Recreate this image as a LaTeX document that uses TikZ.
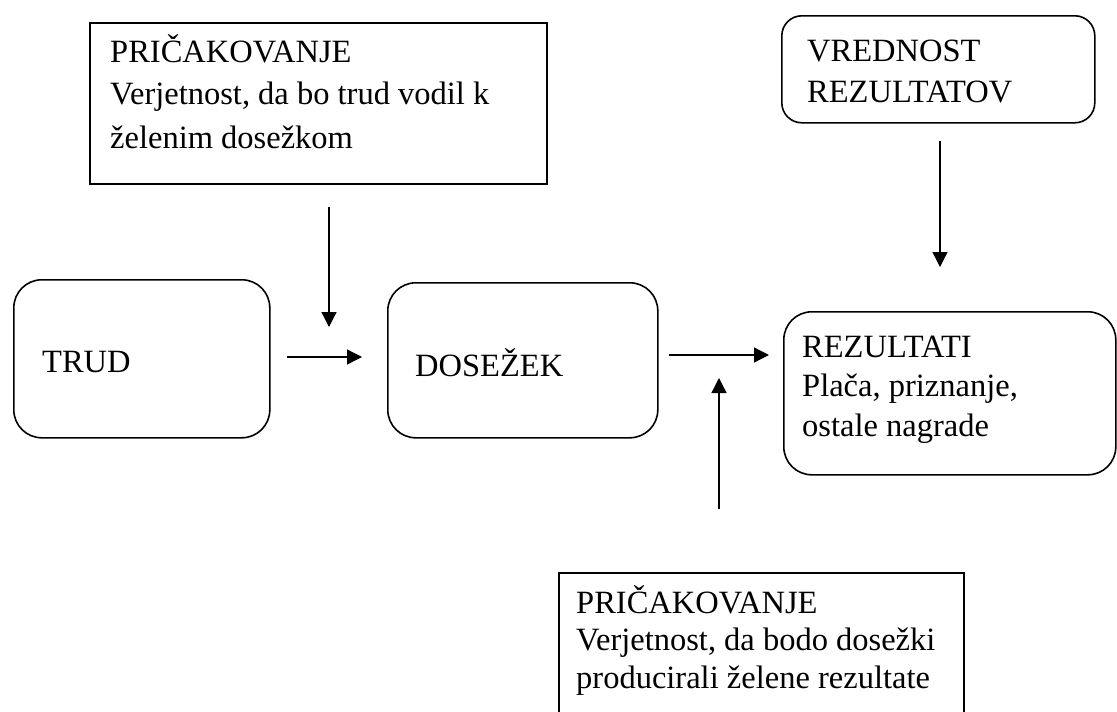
\documentclass[tikz,border=0pt]{standalone}
\usepackage{fontspec}
\setmainfont{Liberation Serif}
\usetikzlibrary{arrows.meta}
% lines of text stacked at a fixed baseline distance; the first baseline is the box's baseline
\newcommand{\linestack}[2]{\vtop{\baselineskip=#1\lineskiplimit=-1000pt\lineskip=0pt #2}}
\begin{document}
\begin{tikzpicture}[x=1pt,y=-1pt,
  frame/.style={draw, line width=1.6pt, inner sep=0pt, anchor=north west},
  roundframe/.style={frame, rounded corners=28pt},
  txt/.style={anchor=base west, inner sep=0pt, font=\fontsize{32.5}{40}\selectfont},
  flow/.style={line width=1.3pt, -{Triangle[length=15pt,width=15pt]}}]
\useasboundingbox (0,0) rectangle (1117,712);

% boxes
\node[frame, minimum width=457pt, minimum height=161pt] (expA) at (89,22) {};
\node[frame, rounded corners=20pt, minimum width=313pt, minimum height=107pt] (value) at (781,15) {};
\node[roundframe, minimum width=256pt, minimum height=158pt] (trud) at (13,279) {};
\node[roundframe, minimum width=270pt, minimum height=155pt] (dosezek) at (387,282) {};
\node[roundframe, minimum width=332pt, minimum height=163pt] (rez) at (783,311) {};
\node[frame, minimum width=405pt, minimum height=170pt] (expB) at (558,572) {};

% texts
\node[txt] (expAtxt) at (110,62)
  {\linestack{43pt}{\hbox{PRIČAKOVANJE}\hbox{Verjetnost, da bo trud vodil k}\hbox{želenim dosežkom}}};
\node[txt] (valuetxt) at (807,61)
  {\linestack{41pt}{\hbox{VREDNOST}\hbox{REZULTATOV}}};
\node[txt] (trudtxt) at (42,372) {TRUD};
\node[txt] (dosezektxt) at (415,376) {DOSEŽEK};
\node[txt] (reztxt) at (802,357)
  {\linestack{39.5pt}{\hbox{REZULTATI}\hbox{Plača, priznanje,}\hbox{ostale nagrade}}};
\node[txt] (expBtxt) at (576,613)
  {\linestack{37.5pt}{\hbox{PRIČAKOVANJE}\hbox{Verjetnost, da bodo dosežki}\hbox{producirali želene rezultate}}};

% arrow end points
\coordinate (a1s) at (329,207); \coordinate (a1e) at (329,327);
\coordinate (a2s) at (287,357); \coordinate (a2e) at (362,357);
\coordinate (a3s) at (669,355); \coordinate (a3e) at (769,355);
\coordinate (a4s) at (719,509); \coordinate (a4e) at (719,378);
\coordinate (a5s) at (940,141); \coordinate (a5e) at (940,267);

\draw[flow] (a1s) -- (a1e);
\draw[flow] (a2s) -- (a2e);
\draw[flow] (a3s) -- (a3e);
\draw[flow] (a4s) -- (a4e);
\draw[flow] (a5s) -- (a5e);
\end{tikzpicture}
\end{document}
